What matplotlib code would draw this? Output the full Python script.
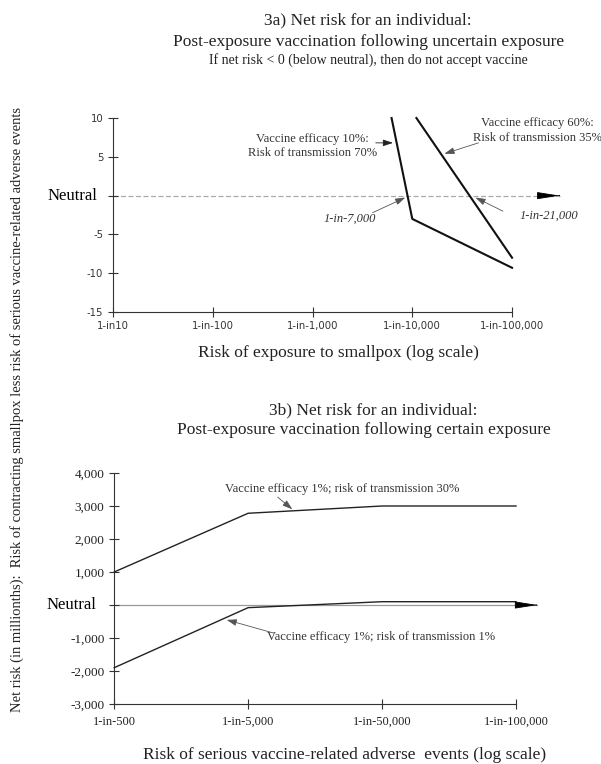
import numpy as np
import matplotlib
matplotlib.use("Agg")
import matplotlib.pyplot as plt

SERIF = "Liberation Serif"
SANS = "DejaVu Sans"

# 3a: net risk vs. risk of exposure (1-in-N, log scale)
exposure_ticks = [10, 100, 1000, 10000, 100000]
exposure_labels = ["1-in10", "1-in-100", "1-in-1,000", "1-in-10,000", "1-in-100,000"]
exposure_eff10 = [6200, 10000, 100000]
net_eff10 = [10, -3, -9.3]
exposure_eff60 = [11000, 100000]
net_eff60 = [10, -8]
yticks_a = [10, 5, 0, -5, -10, -15]

# 3b: net risk vs. risk of serious adverse events (categorical steps)
adverse_labels = ["1-in-500", "1-in-5,000", "1-in-50,000", "1-in-100,000"]
net_tr30 = [1000, 2780, 3000, 3000]
net_tr1 = [-1900, -80, 100, 100]
yticks_b = [4000, 3000, 2000, 1000, 0, -1000, -2000, -3000]

fig = plt.figure(figsize=(6.01, 7.64), dpi=100, facecolor="white")

SPINE = "#333333"


def style_axes(ax):
    for side in ("top", "right"):
        ax.spines[side].set_visible(False)
    for side in ("left", "bottom"):
        ax.spines[side].set_color(SPINE)
        ax.spines[side].set_linewidth(0.8)
    ax.tick_params(direction="inout", length=7, width=0.8, color=SPINE)


def neutral_arrow(ax, x0, x1, ls, color):
    ax.plot([x0, x1], [0, 0], ls=ls, color=color, lw=0.9, clip_on=False, zorder=1)
    back = x1 * 0.999 if ax.get_xscale() == "log" else x1 - 0.01
    ax.annotate("", xy=(x1, 0), xytext=(back, 0),
                arrowprops=dict(arrowstyle="-|>,head_length=1.4,head_width=0.22",
                                color="black", lw=0.6, shrinkA=0, shrinkB=0),
                annotation_clip=False)


def pointer(ax, head, tail, shaft="#555555"):
    ax.annotate("", xy=head, xytext=tail,
                arrowprops=dict(arrowstyle="-|>,head_length=0.6,head_width=0.2",
                                color=shaft, lw=0.6, shrinkA=0, shrinkB=0),
                annotation_clip=False)


# ---- panel 3a ----
ax1 = fig.add_axes([0.188, 0.5916, 0.664, 0.2539])
style_axes(ax1)
ax1.set_xscale("log")
ax1.set_xlim(10, 100000)
ax1.set_ylim(-15, 10)
ax1.minorticks_off()
ax1.set_xticks(exposure_ticks)
ax1.set_xticklabels(exposure_labels, fontname=SANS, fontsize=7.3, color="#333333")
ax1.set_yticks(yticks_a)
ax1.set_yticklabels(["" if v == 0 else str(v) for v in yticks_a],
                    fontname=SANS, fontsize=7.3, color="#333333")
ax1.tick_params(axis="x", pad=3)

ax1.plot(exposure_eff10, net_eff10, color="#111111", lw=1.5, clip_on=False, zorder=3)
ax1.plot(exposure_eff60, net_eff60, color="#111111", lw=1.5, clip_on=False, zorder=3)
neutral_arrow(ax1, 10, 3.0e5, (0, (4, 2)), "#aaaaaa")
ax1.text(-0.04, 0, "Neutral", transform=ax1.get_yaxis_transform(), ha="right", va="center",
         fontname=SERIF, fontsize=12)

ax1.text(1000, 6.4, "Vaccine efficacy 10%:\nRisk of transmission 70%", ha="center", va="center",
         fontname=SERIF, fontsize=9, color="#333333", linespacing=1.25)
pointer(ax1, (6400, 6.8), (4300, 6.8), shaft="#222222")
ax1.text(1.78e5, 8.4, "Vaccine efficacy 60%:\nRisk of transmission 35%", ha="center", va="center",
         fontname=SERIF, fontsize=9, color="#333333", linespacing=1.25)
pointer(ax1, (2.1e4, 5.4), (4.6e4, 6.8))
ax1.text(2380, -2.96, "1-in-7,000", ha="center", va="center", fontname=SERIF,
         fontstyle="italic", fontsize=9, color="#333333")
pointer(ax1, (8500, -0.25), (4000, -2.2))
ax1.text(2.34e5, -2.6, "1-in-21,000", ha="center", va="center", fontname=SERIF,
         fontstyle="italic", fontsize=9, color="#333333")
pointer(ax1, (4.3e4, -0.25), (8.1e4, -2.0))

# ---- panel 3b ----
ax2 = fig.add_axes([0.19, 0.0785, 0.6686, 0.3024])
style_axes(ax2)
pos = np.arange(len(adverse_labels))
ax2.set_xlim(0, len(adverse_labels) - 1)
ax2.set_ylim(-3000, 4000)
ax2.set_xticks(pos)
ax2.set_xticklabels(adverse_labels, fontname=SERIF, fontsize=9, color="#222222")
ax2.set_yticks(yticks_b)
ax2.set_yticklabels(["" if v == 0 else f"{v:,}" for v in yticks_b],
                    fontname=SERIF, fontsize=9.5, color="#222222")
ax2.tick_params(axis="x", pad=5)

ax2.plot(pos, net_tr30, color="#222222", lw=1.0, clip_on=False, zorder=3)
ax2.plot(pos, net_tr1, color="#222222", lw=1.0, clip_on=False, zorder=3)
neutral_arrow(ax2, 0, 3.16, "-", "#999999")
ax2.text(-0.045, 0, "Neutral", transform=ax2.get_yaxis_transform(), ha="right", va="center",
         fontname=SERIF, fontsize=12)

ax2.text(1.70, 3515, "Vaccine efficacy 1%; risk of transmission 30%", ha="center", va="center",
         fontname=SERIF, fontsize=9, color="#333333")
pointer(ax2, (1.33, 2900), (1.22, 3270))
ax2.text(1.99, -970, "Vaccine efficacy 1%; risk of transmission 1%", ha="center", va="center",
         fontname=SERIF, fontsize=9, color="#333333")
pointer(ax2, (0.84, -450), (1.19, -850))

# ---- titles and shared labels ----
def ftext(x, y, s, size, **kw):
    fig.text(x / 601, 1 - y / 764, s, ha="center", va="center", fontname=SERIF,
             fontsize=size, color="#222222", **kw)


ftext(368, 20, "3a) Net risk for an individual:", 12.5)
ftext(369, 42, "Post-exposure vaccination following uncertain exposure", 12.5)
ftext(368, 60, "If net risk < 0 (below neutral), then do not accept vaccine", 10)
ftext(338, 353, "Risk of exposure to smallpox (log scale)", 12.5)
ftext(373, 410, "3b) Net risk for an individual:", 12.5)
ftext(364, 430, "Post-exposure vaccination following certain exposure", 12.5)
ftext(345, 755, "Risk of serious vaccine-related adverse  events (log scale)", 12.5)
ftext(17, 410, "Net risk (in millionths):  Risk of contracting smallpox less risk of "
      "serious vaccine-related adverse events", 10.5, rotation=90)

fig.savefig("out.png", dpi=100, facecolor="white")
